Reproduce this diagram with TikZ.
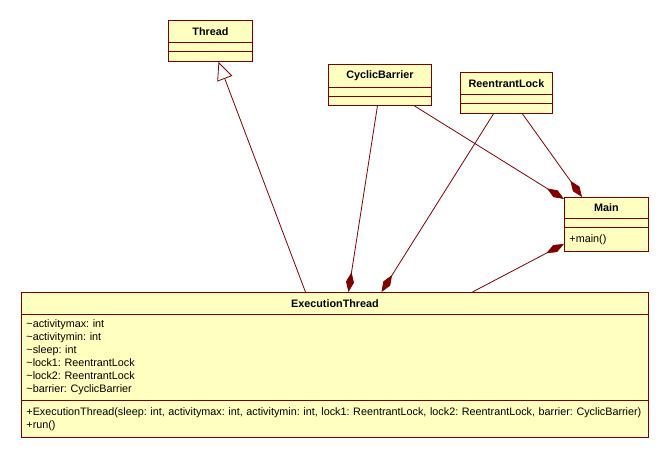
\documentclass[tikz,border=0pt]{standalone}
\usepackage{fontspec}
\setmainfont{Liberation Sans}
\usepackage{tikz}
\usepackage{xcolor}
\usetikzlibrary{shapes,arrows.meta}
\definecolor{umlline}{RGB}{128,0,0}
\definecolor{umlfill}{RGB}{255,255,192}
\frenchspacing

\begin{document}
\begin{tikzpicture}[x=1pt, y=-1pt,
      title/.style={rectangle, draw=umlline, fill=umlfill, line width=0.9pt, anchor=north west, inner sep=0pt, font=\fontsize{10.8}{13}\selectfont\bfseries},
      compart/.style={rectangle, draw=umlline, fill=umlfill, line width=0.9pt, anchor=north west, inner xsep=5pt, inner ysep=0pt, align=left, font=\fontsize{10.8}{13}\selectfont},
      link/.style={draw=umlline, line width=0.8pt},
      owns/.style={link, {Diamond[length=20pt, width=8pt, fill=umlline]}-},
      extends/.style={link, -{Triangle[open, length=18pt, width=16pt, fill=white]}}]
      \useasboundingbox (0,0) rectangle (669,458);
      % classes
      \node[title, minimum width=84pt, minimum height=22pt](thread) at (168, 20){Thread};
      \node[compart, minimum width=84pt, minimum height=9pt](threadA) at (168, 42){};
      \node[compart, minimum width=84pt, minimum height=10pt](threadM) at (168, 51){};
      \node[title, minimum width=103pt, minimum height=23pt](barrier) at (328, 64){CyclicBarrier};
      \node[compart, minimum width=103pt, minimum height=9pt](barrierA) at (328, 87){};
      \node[compart, minimum width=103pt, minimum height=9pt](barrierM) at (328, 96){};
      \node[title, minimum width=92pt, minimum height=22pt](lock) at (460, 72){ReentrantLock};
      \node[compart, minimum width=92pt, minimum height=9pt](lockA) at (460, 94){};
      \node[compart, minimum width=92pt, minimum height=10pt](lockM) at (460, 103){};
      \node[title, minimum width=84pt, minimum height=21pt](main) at (564, 197){Main};
      \node[compart, minimum width=84pt, minimum height=9pt](mainA) at (564, 218){};
      \node[compart, text width=74pt, minimum height=24pt](mainM) at (564, 227){+main()};
      \node[title, minimum width=627pt, minimum height=22pt](exec) at (21, 292){ExecutionThread};
      \node[compart, text width=617pt, minimum height=86pt](execA) at (21, 314){%
        \textasciitilde activitymax: int\\
        \textasciitilde activitymin: int\\
        \textasciitilde sleep: int\\
        \textasciitilde lock1: ReentrantLock\\
        \textasciitilde lock2: ReentrantLock\\
        \textasciitilde barrier: CyclicBarrier};
      \node[compart, text width=617pt, minimum height=37pt](execM) at (21, 400){%
        +ExecutionThread(sleep: int, activitymax: int, activitymin: int, lock1: ReentrantLock, lock2: ReentrantLock, barrier: CyclicBarrier)\\
        +run()};
      % relations
      \draw[extends] ([xshift=-29.5pt]exec.north) -- ([xshift=8pt]threadM.south);
      \draw[owns] ([xshift=13.5pt]exec.north) -- ([xshift=-2.5pt]barrierM.south);
      \draw[owns] ([xshift=46.5pt]exec.north) -- ([xshift=-13pt]lockM.south);
      \draw[owns] ([yshift=-2pt]main.north west) -- ([xshift=34.5pt]barrierM.south);
      \draw[owns] ([xshift=18pt]main.north west) -- ([xshift=16pt]lockM.south);
      \draw[owns] ([yshift=8pt]mainM.south west) -- ([xshift=137.5pt]exec.north);
    \end{tikzpicture}
\end{document}
